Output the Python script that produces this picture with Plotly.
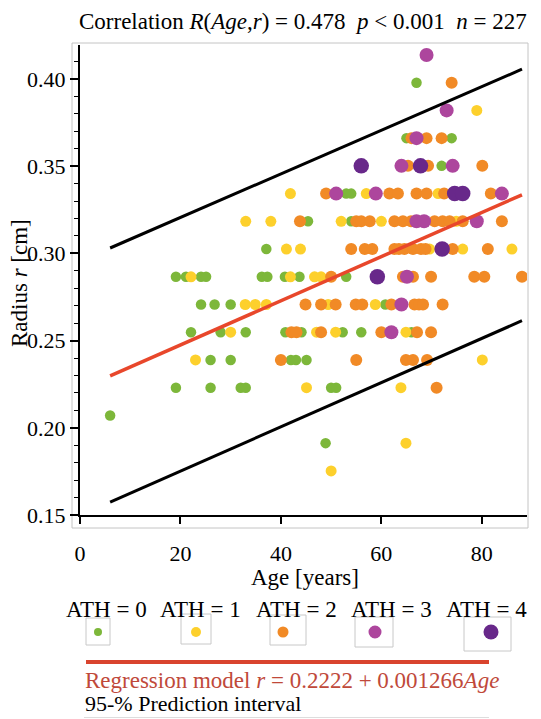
import plotly.graph_objects as go

# ---------------- data ----------------
ath_labels = ["ATH = 0", "ATH = 1", "ATH = 2", "ATH = 3", "ATH = 4"]
ath_colors = ["#7db73a", "#fdd02c", "#f18a26", "#ad469d", "#68288a"]
ath_sizes = [10.5, 11, 12, 14, 15.5]
legend_dot_sizes = [8, 10, 11, 13, 15]

# ATH = 0 (green)
age_0 = [67, 65, 74, 72, 53, 54, 45.4, 54, 37.1,
         19.1, 21.1, 24.1, 25.1, 36.2, 37.3, 40.8, 43.7, 53,
         24.1, 26.8, 30, 60.8,
         22.1, 28, 33, 40.9, 44.1, 52.3, 56, 66,
         26, 30, 42, 43, 45.1,
         19.1, 26, 32, 33, 50, 51,
         6, 48.9]
r_0 = [0.3979, 0.3661, 0.3661, 0.3502, 0.3343, 0.3343, 0.3184, 0.3184, 0.3025,
       0.2866, 0.2866, 0.2866, 0.2866, 0.2866, 0.2866, 0.2866, 0.2866, 0.2866,
       0.2707, 0.2707, 0.2707, 0.2707,
       0.2548, 0.2548, 0.2548, 0.2548, 0.2548, 0.2548, 0.2548, 0.2548,
       0.2389, 0.2389, 0.2389, 0.2389, 0.2389,
       0.2230, 0.2230, 0.2230, 0.2230, 0.2230, 0.2230,
       0.2071, 0.1912]

# ATH = 1 (yellow)
age_1 = [79,
         41.9, 57, 71.3,
         33, 38, 52, 60, 74.9,
         41.1, 43.9, 69.6, 76.2, 86,
         22.1, 41.9, 46.7, 48,
         32.9, 34.9, 37.1, 49.4, 58.8,
         30, 47.1, 50.9, 64.9,
         23, 80.1,
         45.1, 63.9,
         64.9, 50]
r_1 = [0.3820,
       0.3343, 0.3343, 0.3343,
       0.3184, 0.3184, 0.3184, 0.3184, 0.3184,
       0.3025, 0.3025, 0.3025, 0.3025, 0.3025,
       0.2866, 0.2866, 0.2866, 0.2866,
       0.2707, 0.2707, 0.2707, 0.2707, 0.2707,
       0.2548, 0.2548, 0.2548, 0.2548,
       0.2389, 0.2389,
       0.2230, 0.2230,
       0.1912, 0.1753]

# ATH = 2 (orange)
age_2 = [74,
         66, 69, 72,
         65.3, 69.3, 80.1,
         49, 61.6, 63.3, 67, 69, 72.5, 81.8,
         43.8, 55, 56, 57.7, 62.6, 64.3, 65.9, 70.6, 72.2, 73.6, 76.2, 84,
         54, 56.7, 58.2, 62.6, 63.5, 64.6, 66.3, 67.9, 68.8, 74.2, 81.2,
         50, 64.3, 66.3, 69.9, 78.5, 80.5, 88,
         44.9, 48, 50.9, 54.9, 56.2, 62, 66.6, 67.5, 68.3, 72.2,
         42.1, 43.1, 48, 60, 67.1, 69.9,
         40, 55, 64.9, 66.3, 69.1,
         71]
r_2 = [0.3979,
       0.3661, 0.3661, 0.3661,
       0.3502, 0.3502, 0.3502,
       0.3343, 0.3343, 0.3343, 0.3343, 0.3343, 0.3343, 0.3343,
       0.3184, 0.3184, 0.3184, 0.3184, 0.3184, 0.3184, 0.3184, 0.3184, 0.3184, 0.3184, 0.3184, 0.3184,
       0.3025, 0.3025, 0.3025, 0.3025, 0.3025, 0.3025, 0.3025, 0.3025, 0.3025, 0.3025, 0.3025,
       0.2866, 0.2866, 0.2866, 0.2866, 0.2866, 0.2866, 0.2866,
       0.2707, 0.2707, 0.2707, 0.2707, 0.2707, 0.2707, 0.2707, 0.2707, 0.2707, 0.2707,
       0.2548, 0.2548, 0.2548, 0.2548, 0.2548, 0.2548,
       0.2389, 0.2389, 0.2389, 0.2389, 0.2389,
       0.2230]

# ATH = 3 (magenta)
age_3 = [69, 73, 67, 64, 74.2, 51, 58.9, 84, 67, 68.5, 79, 65.1, 64, 62]
r_3 = [0.4138, 0.3820, 0.3661, 0.3502, 0.3502, 0.3343, 0.3343, 0.3343,
       0.3184, 0.3184, 0.3184, 0.2866, 0.2707, 0.2548]

# ATH = 4 (purple)
age_4 = [56, 67.8, 74.6, 76.2, 72.1, 59.2]
r_4 = [0.3502, 0.3502, 0.3343, 0.3343, 0.3025, 0.2866]

# regression line and 95-% prediction interval (end points)
line_age = [6, 88]
reg_r = [0.2298, 0.3336]
pi_upper = [0.3031, 0.4056]
pi_lower = [0.1574, 0.2614]

x_ticks = [0, 20, 40, 60, 80]
y_ticks = [0.15, 0.20, 0.25, 0.30, 0.35, 0.40]

title_text = ("Correlation <i>R</i>(<i>Age</i>,<i>r</i>) = 0.478\u00a0\u00a0"
              "<i>p</i> < 0.001\u00a0\u00a0<i>n</i> = 227")
reg_text = "Regression model <i>r</i> = 0.2222 + 0.001266<i>Age</i>"
pi_text = "95-% Prediction interval"
x_title = "Age [years]"
y_title = "Radius <i>r</i> [cm]"

# ---------------- figure ----------------
FONT = "Liberation Serif, Times New Roman, serif"
FS = 23
TFS = 22
W, H = 541, 719
ML, MR, MT, MB = 80, 14, 45, 204
PW, PH = W - ML - MR, H - MT - MB


def px(x):
    return (x - ML) / PW


def py(y):
    return (H - MB - y) / PH


fig = go.Figure()

ages = [age_0, age_1, age_2, age_3, age_4]
rs = [r_0, r_1, r_2, r_3, r_4]

for a, r, c, s, lab in zip(ages, rs, ath_colors, ath_sizes, ath_labels):
    fig.add_trace(go.Scatter(x=a, y=r, mode="markers", name=lab,
                             marker=dict(color=c, size=s, line=dict(width=0)),
                             showlegend=False))

fig.add_trace(go.Scatter(x=line_age, y=pi_upper, mode="lines",
                         line=dict(color="black", width=3), showlegend=False))
fig.add_trace(go.Scatter(x=line_age, y=pi_lower, mode="lines",
                         line=dict(color="black", width=3), showlegend=False))
fig.add_trace(go.Scatter(x=line_age, y=reg_r, mode="lines",
                         line=dict(color="#e8472b", width=3.5), showlegend=False))

shapes = []
annotations = []

# grey outer frame of the plot
shapes.append(dict(type="rect", xref="paper", yref="paper",
                   x0=px(72), x1=px(528), y0=py(528), y1=py(43),
                   line=dict(color="#c4c4c4", width=1), layer="below"))

# title and axis titles
annotations.append(dict(text=title_text, xref="paper", yref="paper",
                        x=px(303), y=py(22), xanchor="center", yanchor="middle",
                        showarrow=False, font=dict(family=FONT, size=FS, color="black")))
annotations.append(dict(text=x_title, xref="paper", yref="paper",
                        x=px(305), y=py(577), xanchor="center", yanchor="middle",
                        showarrow=False, font=dict(family=FONT, size=FS, color="black")))
annotations.append(dict(text=y_title, xref="paper", yref="paper",
                        x=px(19), y=py(283), xanchor="center", yanchor="middle",
                        textangle=-90,
                        showarrow=False, font=dict(family=FONT, size=FS, color="black")))

# legend: labels, boxes and dots
label_cx = [106, 200, 296, 391, 486]
box_x = [(86, 110), (181, 211), (270, 306), (355, 393), (464, 511)]
box_y = [(618, 645), (614, 644), (615, 645), (617, 647), (617, 651)]
dot_x = [98, 196, 283, 375, 491]
dot_y = 632
for i in range(5):
    annotations.append(dict(text=ath_labels[i], xref="paper", yref="paper",
                            x=px(label_cx[i]), y=py(609), xanchor="center",
                            yanchor="middle", showarrow=False,
                            font=dict(family=FONT, size=FS, color="black")))
    shapes.append(dict(type="rect", xref="paper", yref="paper",
                       x0=px(box_x[i][0]), x1=px(box_x[i][1]),
                       y0=py(box_y[i][1]), y1=py(box_y[i][0]),
                       line=dict(color="#c8c8c8", width=1)))
    d = legend_dot_sizes[i] / 2
    shapes.append(dict(type="circle", xref="paper", yref="paper",
                       xsizemode="pixel", ysizemode="pixel",
                       xanchor=px(dot_x[i]), yanchor=py(dot_y),
                       x0=-d, x1=d, y0=-d, y1=d,
                       fillcolor=ath_colors[i], line=dict(width=0)))

# regression legend line and texts
shapes.append(dict(type="line", xref="paper", yref="paper",
                   x0=px(86), x1=px(489), y0=py(662), y1=py(662),
                   line=dict(color="#d9442e", width=4)))
annotations.append(dict(text=reg_text, xref="paper", yref="paper",
                        x=px(83), y=py(680), xanchor="left", yanchor="middle",
                        showarrow=False,
                        font=dict(family=FONT, size=FS, color="#c0493a")))
annotations.append(dict(text=pi_text, xref="paper", yref="paper",
                        x=px(83), y=py(703), xanchor="left", yanchor="middle",
                        showarrow=False,
                        font=dict(family=FONT, size=FS - 1, color="black")))
shapes.append(dict(type="line", xref="paper", yref="paper",
                   x0=px(84), x1=px(489), y0=py(717.5), y1=py(717.5),
                   line=dict(color="#dddddd", width=1)))

fig.update_layout(
    width=W, height=H,
    margin=dict(l=ML, r=MR, t=MT, b=MB, pad=0, autoexpand=False),
    paper_bgcolor="white", plot_bgcolor="white",
    font=dict(family=FONT, size=FS, color="black"),
    shapes=shapes, annotations=annotations,
    xaxis=dict(range=[0, 89], tickvals=x_ticks, ticktext=[str(v) for v in x_ticks],
               showline=True, linecolor="black", linewidth=2,
               ticks="outside", ticklen=7, tickwidth=1.5, tickcolor="black",
               ticklabelstandoff=11,
               showgrid=False, zeroline=False, automargin=False,
               tickfont=dict(family=FONT, size=TFS)),
    yaxis=dict(range=[0.15, 0.4195], tickvals=y_ticks,
               ticktext=["%.2f" % v for v in y_ticks],
               showline=True, linecolor="black", linewidth=2,
               ticks="outside", ticklen=8, tickwidth=1.5, tickcolor="black",
               minor=dict(dtick=0.01, ticks="outside", ticklen=4,
                          tickwidth=1, tickcolor="black"),
               showgrid=False, zeroline=False, automargin=False,
               tickfont=dict(family=FONT, size=TFS)),
)

fig.write_html("out.html",
               config={"displayModeBar": False},
               post_script="document.body.style.margin='0px';"
                           "document.body.style.overflow='hidden';")
